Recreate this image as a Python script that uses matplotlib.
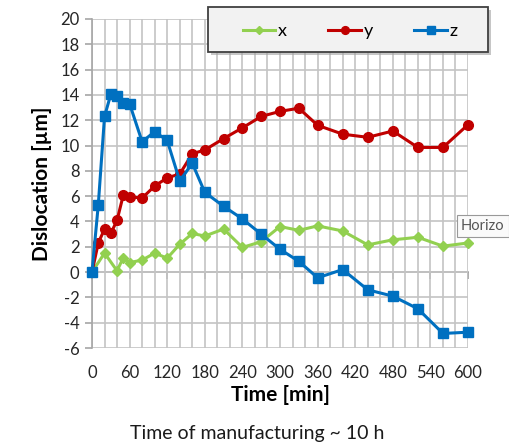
import matplotlib
matplotlib.use("Agg")
import matplotlib.pyplot as plt
from matplotlib.patches import Rectangle
from matplotlib.ticker import MultipleLocator

plt.rcParams['font.family'] = ['Lato', 'DejaVu Sans']
plt.rcParams['axes.unicode_minus'] = False

# time points [min]
time_xz = [0, 10, 20, 30, 40, 50, 60, 80, 100, 120, 140, 160, 180, 210,
           240, 270, 300, 330, 360, 400, 440, 480, 520, 560, 600]
time_x = [0, 20, 40, 50, 60, 80, 100, 120, 140, 160, 180, 210,
          240, 270, 300, 330, 360, 400, 440, 480, 520, 560, 600]

# dislocation [um]
disp_x = [0, 1.5, 0.1, 1.15, 0.75, 0.95, 1.5, 1.1, 2.2, 3.05, 2.85, 3.4,
          1.95, 2.4, 3.6, 3.3, 3.65, 3.25, 2.15, 2.55, 2.75, 2.05, 2.3]
disp_y = [0, 2.3, 3.4, 3.05, 4.1, 6.1, 5.95, 5.85, 6.8, 7.45, 7.75, 9.35, 9.65,
          10.55, 11.4, 12.3, 12.7, 12.95, 11.6, 10.9, 10.65, 11.15, 9.85, 9.85, 11.65]
disp_z = [0, 5.3, 12.3, 14.05, 13.9, 13.4, 13.3, 10.3, 11.1, 10.4, 7.2, 8.6, 6.3,
          5.2, 4.2, 3.0, 1.8, 0.85, -0.45, 0.2, -1.4, -1.9, -2.9, -4.85, -4.75]

xticks = list(range(0, 601, 60))
yticks = list(range(-6, 21, 2))

fig = plt.figure(figsize=(5.1, 4.46), dpi=100)
ax = fig.add_axes([0.1804, 0.2197, 0.7373, 0.7377])

ax.plot(time_x, disp_x, color='#92d050', lw=2.2, marker='D', ms=5,
        label='x', clip_on=False, zorder=3)
ax.plot(time_xz, disp_y, color='#c00000', lw=2.2, marker='o', ms=7,
        label='y', clip_on=False, zorder=4)
ax.plot(time_xz, disp_z, color='#0070c0', lw=2.2, marker='s', ms=7,
        label='z', clip_on=False, zorder=5)

ax.set_xlim(0, 600)
ax.set_ylim(-6, 20)
ax.set_xticks(xticks)
ax.set_yticks(yticks)
ax.xaxis.set_minor_locator(MultipleLocator(20))
ax.grid(True, which='both', color='#c4c4c4', lw=1.2)
ax.set_axisbelow(True)

for s in ['top', 'right', 'bottom']:
    ax.spines[s].set_visible(False)
ax.spines['left'].set_color('#a6a6a6')
ax.spines['left'].set_linewidth(1.2)

ax.tick_params(axis='y', direction='out', length=5, width=1.2, color='#a6a6a6',
               labelsize=12, labelcolor='#262626', pad=4)
ax.tick_params(axis='x', which='both', length=0, labelsize=12,
               labelcolor='#262626', pad=12)

# axis line at y = 0 with tick marks
zero_ax = ax.secondary_xaxis(6 / 26)
zero_ax.set_xticks(xticks)
zero_ax.set_xticklabels([])
zero_ax.tick_params(direction='out', length=5, width=1.2, color='#a0a0a0')
zero_ax.spines['bottom'].set_color('#a0a0a0')
zero_ax.spines['bottom'].set_linewidth(1.2)

ax.set_ylabel('Dislocation [µm]', fontsize=15, fontweight='bold', labelpad=6)
ax.set_xlabel('Time [min]', fontsize=15, fontweight='bold', labelpad=3)

fig.text(0.504, 1 - 433 / 446, 'Time of manufacturing ~ 10 h', fontsize=14,
         ha='center', va='center', color='#1a1a1a')

# legend box with drop shadow
W, H = 510, 446
fig.add_artist(Rectangle((211 / W, 1 - 55 / H), 280 / W, 45 / H,
                         transform=fig.transFigure, fc='#a0a0a0', ec='none',
                         alpha=0.6, zorder=9))
fig.add_artist(Rectangle((208 / W, 1 - 52 / H), 280 / W, 45 / H,
                         transform=fig.transFigure, fc='#f2f2f2', ec='#404040',
                         lw=1.3, zorder=10))
leg = fig.legend(loc='center', bbox_to_anchor=(350 / W, 1 - 31 / H), ncol=3,
                 fontsize=13, frameon=False, handlelength=1.8,
                 columnspacing=2.3, handletextpad=0.15, markerscale=0.8)
leg.set_zorder(11)

fig.text(461 / W, 1 - 226 / H, 'Horizo', fontsize=10.5, color='#555555',
         ha='left', va='center',
         bbox=dict(boxstyle='square,pad=0.3', fc='#fafafa', ec='#999999', lw=0.8))

fig.savefig('out.png', dpi=100)
